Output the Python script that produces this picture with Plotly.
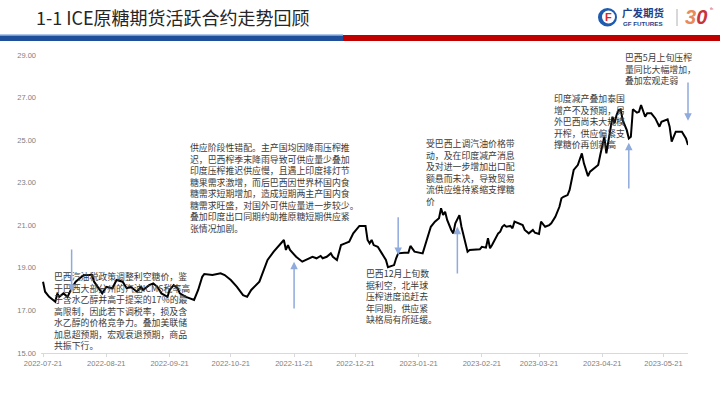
import plotly.graph_objects as go

# ---------------- data ----------------
dates = [
    "2022-07-21", "2022-07-22", "2022-07-24", "2022-07-27", "2022-07-28", "2022-07-29", "2022-07-31",
    "2022-08-02", "2022-08-04", "2022-08-06", "2022-08-08", "2022-08-10", "2022-08-14", "2022-08-15",
    "2022-08-19", "2022-08-21", "2022-08-24", "2022-08-26", "2022-08-29", "2022-08-31",
    "2022-09-02", "2022-09-05", "2022-09-07", "2022-09-08", "2022-09-11", "2022-09-13", "2022-09-15",
    "2022-09-17", "2022-09-20", "2022-09-21", "2022-09-23", "2022-09-25", "2022-09-26", "2022-09-29",
    "2022-10-03", "2022-10-05", "2022-10-07", "2022-10-08", "2022-10-12", "2022-10-16", "2022-10-18",
    "2022-10-21", "2022-10-24", "2022-10-27", "2022-10-29", "2022-10-31",
    "2022-11-04", "2022-11-06", "2022-11-08", "2022-11-11", "2022-11-13", "2022-11-15", "2022-11-16",
    "2022-11-17", "2022-11-18", "2022-11-19", "2022-11-22", "2022-11-25", "2022-11-27", "2022-11-30",
    "2022-12-02", "2022-12-04", "2022-12-05", "2022-12-07", "2022-12-09", "2022-12-10", "2022-12-12",
    "2022-12-14", "2022-12-16", "2022-12-18", "2022-12-20", "2022-12-23", "2022-12-26", "2022-12-27",
    "2022-12-28", "2022-12-29", "2022-12-30",
    "2023-01-01", "2023-01-03", "2023-01-05", "2023-01-06", "2023-01-09", "2023-01-10", "2023-01-11",
    "2023-01-14", "2023-01-16", "2023-01-17", "2023-01-19", "2023-01-23", "2023-01-24", "2023-01-27",
    "2023-01-29", "2023-01-31",
    "2023-02-01", "2023-02-02", "2023-02-03", "2023-02-04", "2023-02-06", "2023-02-07", "2023-02-08",
    "2023-02-10", "2023-02-11", "2023-02-13", "2023-02-14", "2023-02-15", "2023-02-17", "2023-02-20",
    "2023-02-21", "2023-02-23", "2023-02-24", "2023-02-25", "2023-02-26", "2023-02-28",
    "2023-03-01", "2023-03-02", "2023-03-03", "2023-03-04", "2023-03-05", "2023-03-07", "2023-03-08",
    "2023-03-09", "2023-03-11", "2023-03-13", "2023-03-14", "2023-03-16", "2023-03-18", "2023-03-19",
    "2023-03-21", "2023-03-22", "2023-03-24", "2023-03-26", "2023-03-27", "2023-03-29", "2023-03-31",
    "2023-04-01", "2023-04-02", "2023-04-04", "2023-04-05", "2023-04-07", "2023-04-09", "2023-04-11",
    "2023-04-12", "2023-04-14", "2023-04-15", "2023-04-17", "2023-04-19", "2023-04-20", "2023-04-21",
    "2023-04-22", "2023-04-23", "2023-04-24", "2023-04-25", "2023-04-26", "2023-04-27", "2023-04-28",
    "2023-04-29", "2023-04-30",
    "2023-05-01", "2023-05-03", "2023-05-04", "2023-05-05", "2023-05-06", "2023-05-08", "2023-05-09",
    "2023-05-10", "2023-05-12", "2023-05-13", "2023-05-15", "2023-05-17", "2023-05-19", "2023-05-20",
    "2023-05-23", "2023-05-24", "2023-05-25", "2023-05-27", "2023-05-30", "2023-06-01", "2023-06-02",
]
prices = [
    18.35, 17.88, 17.64, 17.41, 17.80, 17.64, 17.80,
    17.64, 18.04, 18.35, 18.51, 18.66, 18.66, 18.35,
    17.80, 18.11, 18.04, 18.43, 18.35, 18.04,
    18.11, 17.88, 18.11, 17.96, 18.19, 18.27, 18.11,
    17.80, 17.64, 17.96, 18.19, 18.04, 17.80, 17.64,
    17.49, 17.96, 18.58, 18.71, 18.66, 18.74, 18.66,
    18.43, 18.11, 17.72, 17.64, 17.96,
    18.35, 18.90, 19.37, 19.76, 19.99, 20.23, 20.31,
    19.84, 20.07, 19.84, 19.52, 19.29, 19.37, 19.52,
    19.45, 19.56, 19.45, 19.52, 19.68, 19.52, 19.37,
    20.07, 20.15, 20.23, 20.62, 20.97, 20.97, 20.31,
    20.15, 20.31, 20.07,
    19.99, 19.68, 19.37, 19.03, 19.13, 19.45, 19.68,
    19.71, 19.71, 20.03, 19.76, 19.68, 19.99, 20.93,
    21.17, 21.33,
    21.80, 21.48, 21.64, 21.25, 20.78, 20.62, 21.09,
    21.48, 20.93, 20.07, 19.76, 19.84, 19.84, 19.87,
    19.99, 19.95, 20.39, 19.92, 20.07, 20.46,
    20.62, 20.70, 20.93, 21.01, 20.93, 20.97, 20.86,
    21.17, 21.09, 21.01, 20.78, 20.62, 20.78, 20.65,
    20.59, 21.17, 20.93, 21.01, 21.09, 21.40, 21.87,
    22.27, 22.34, 22.42, 22.66, 23.60, 23.83, 24.38,
    23.91, 23.31, 23.52, 23.68, 23.83, 24.30, 24.69,
    25.16, 24.38, 24.93, 25.55, 26.10, 25.79, 26.18,
    26.41, 26.45,
    25.94, 25.47, 25.08, 25.16, 26.45, 26.29, 26.33,
    26.65, 26.10, 26.26, 26.26, 26.02, 25.63, 25.86,
    25.98, 25.63, 24.93, 25.40, 25.40, 25.08, 24.77,
]

tick_dates = ["2022-07-21", "2022-08-21", "2022-09-21", "2022-10-21", "2022-11-21", "2022-12-21",
              "2023-01-21", "2023-02-21", "2023-03-21", "2023-04-21", "2023-05-21"]
y_ticks = [15, 17, 19, 21, 23, 25, 27, 29]

# arrows: (date, head value, tail value)
arrow_dates = ["2022-08-04", "2022-11-21", "2023-01-11", "2023-02-09", "2023-05-04", "2023-06-02"]
arrow_heads = [17.87, 19.29, 19.60, 20.93, 24.88, 25.91]
arrow_tails = [19.93, 17.02, 21.45, 18.66, 22.66, 27.78]

title_text = "1-1 ICE原糖期货活跃合约走势回顾"

notes = [
    "供应阶段性错配。主产国均因降雨压榨推<br>迟，巴西榨季末降雨导致可供应量少叠加<br>印度压榨推迟供应慢，且遇上印度排灯节<br>糖果需求激增，而后巴西因世界杯国内食<br>糖需求短期增加，造成短期两主产国内食<br>糖需求旺盛，对国外可供应量进一步较少。<br>叠加印度出口同期约助推原糖短期供应紧<br>张情况加剧。",
    "巴西汽油税政策调整利空糖价，鉴<br>于巴西大部分州的汽油ICMS税率高<br>于含水乙醇并高于提案的17%的最<br>高限制，因此若下调税率，损及含<br>水乙醇的价格竞争力。叠加美联储<br>加息超预期，宏观衰退预期，商品<br>共振下行。",
    "受巴西上调汽油价格带<br>动，及在印度减产消息<br>及对进一步增加出口配<br>额悬而未决，导致贸易<br>流供应维持紧缩支撑糖<br>价",
    "巴西12月上旬数<br>据利空，北半球<br>压榨进度追赶去<br>年同期，供应紧<br>缺格局有所延缓。",
    "印度减产叠加泰国<br>增产不及预期，另<br>外巴西尚未大规模<br>开榨，供应偏紧支<br>撑糖价再创新高",
    "巴西5月上旬压榨<br>量同比大幅增加，<br>叠加宏观走弱",
]

# ---------------- layout geometry ----------------
W, H = 720, 404
ML, MR, MT, MB = 41, 32, 55, 51
PW, PH = W - ML - MR, H - MT - MB


def px(x):
    return (x - ML) / PW


def py(y):
    return (H - MB - y) / PH


CJK = "Noto Sans CJK SC"

fig = go.Figure()
fig.add_trace(go.Scatter(x=dates, y=prices, mode="lines",
                         line=dict(color="#000000", width=2), showlegend=False,
                         hoverinfo="skip"))

annotations = []
# text blocks
note_pos = [(188, 139), (52, 268), (424, 134.5), (364, 265), (552, 89.5), (623, 49)]
for t, (x0, y0) in zip(notes, note_pos):
    annotations.append(dict(text=t, x=px(x0), y=py(y0), xref="paper", yref="paper",
                            xanchor="left", yanchor="top", align="left", showarrow=False,
                            font=dict(family=CJK, size=8.9, color="#3a3a3a")))
# arrows
for d, yh, yt in zip(arrow_dates, arrow_heads, arrow_tails):
    annotations.append(dict(text="", x=d, y=yh, ax=d, ay=yt, xref="x", yref="y",
                            axref="x", ayref="y", showarrow=True, arrowhead=2,
                            arrowsize=1, arrowwidth=1.5, arrowcolor="#8FAADC", standoff=0))
# title
annotations.append(dict(text=title_text, x=px(34), y=py(17), xref="paper", yref="paper",
                        xanchor="left", yanchor="middle", showarrow=False,
                        font=dict(family=CJK, size=18, color="#262626")))
# logo texts
annotations.append(dict(text="<b>广发期货</b>", x=px(621), y=py(12.5), xref="paper", yref="paper",
                        xanchor="left", yanchor="middle", showarrow=False, borderpad=0,
                        font=dict(family=CJK, size=10.5, color="#1d3f8c")))
annotations.append(dict(text="<b>GF FUTURES</b>", x=px(622), y=py(23.5), xref="paper", yref="paper",
                        xanchor="left", yanchor="middle", showarrow=False, borderpad=0,
                        font=dict(family="Liberation Sans", size=6.2, color="#1d3f8c")))
annotations.append(dict(text="<b>F</b>", x=px(608), y=py(17), xref="paper", yref="paper",
                        xanchor="center", yanchor="middle", showarrow=False,
                        font=dict(family="Liberation Sans", size=11, color="#d8262a")))
annotations.append(dict(text="<b><i><span style='color:#e98a5a'>3</span><span style='color:#c7353a'>0</span></i></b>",
                        x=px(696), y=py(17), xref="paper", yref="paper",
                        xanchor="center", yanchor="middle", showarrow=False,
                        font=dict(family="Liberation Sans", size=20, color="#c7353a")))
annotations.append(dict(text="th", x=px(711), y=py(8), xref="paper", yref="paper",
                        xanchor="center", yanchor="middle", showarrow=False,
                        font=dict(family="Liberation Sans", size=4, color="#c7353a")))

shapes = [
    # header bars
    dict(type="rect", xref="paper", yref="paper", x0=px(0), x1=px(343), y0=py(41), y1=py(35.5),
         fillcolor="#1f4e9a", line=dict(width=0), layer="above"),
    dict(type="rect", xref="paper", yref="paper", x0=px(0), x1=px(343), y0=py(35.5), y1=py(34.5),
         fillcolor="#5b8fd0", line=dict(width=0), layer="above"),
    dict(type="rect", xref="paper", yref="paper", x0=px(343), x1=px(720), y0=py(41), y1=py(35),
         fillcolor="#c00000", line=dict(width=0), layer="above"),
    # logo icon
    dict(type="circle", xref="paper", yref="paper", x0=px(598), x1=px(617), y0=py(26.5), y1=py(8),
         fillcolor="#1d5bb0", line=dict(width=0), layer="above"),
    dict(type="circle", xref="paper", yref="paper", x0=px(602), x1=px(615), y0=py(23.5), y1=py(10.5),
         fillcolor="#ffffff", line=dict(width=0), layer="above"),
    # divider
    dict(type="line", xref="paper", yref="paper", x0=px(677), x1=px(677), y0=py(26), y1=py(9),
         line=dict(color="#b0b0b0", width=1), layer="above"),
]

fig.update_layout(
    width=W, height=H,
    margin=dict(l=ML, r=MR, t=MT, b=MB, pad=0),
    paper_bgcolor="#ffffff", plot_bgcolor="#ffffff",
    showlegend=False,
    annotations=annotations,
    shapes=shapes,
    xaxis=dict(type="date", range=["2022-07-20", "2023-06-02"],
               tickvals=tick_dates, ticktext=tick_dates,
               showgrid=False, zeroline=False,
               showline=True, linecolor="#d9d9d9", linewidth=1,
               ticks="outside", ticklen=3, tickcolor="#d9d9d9",
               tickfont=dict(family="Liberation Sans", size=7.5, color="#808080")),
    yaxis=dict(range=[15, 29], tickvals=y_ticks, tickformat=".2f",
               showgrid=False, zeroline=False, showline=False, ticks="",
               ticklabelstandoff=4,
               tickfont=dict(family="Liberation Sans", size=7.5, color="#808080")),
)

fig.write_html("out.html")
